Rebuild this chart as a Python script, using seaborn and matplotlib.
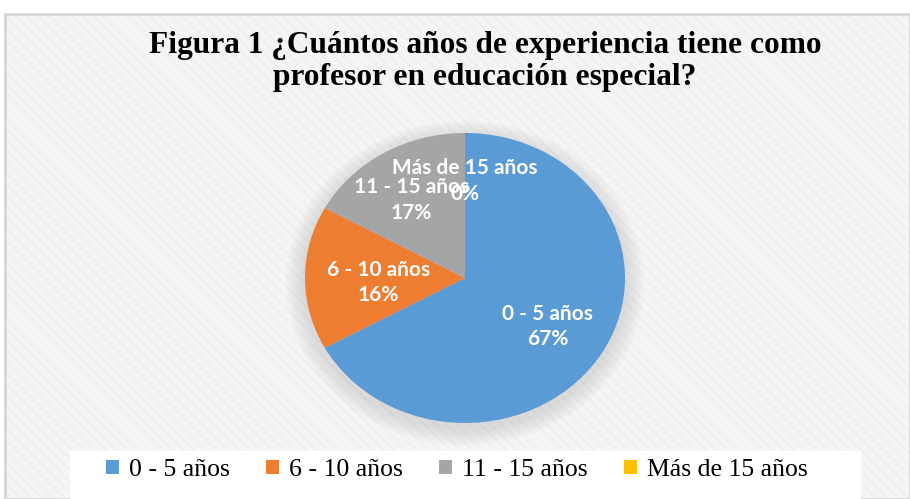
import numpy as np
import matplotlib
matplotlib.use("Agg")
import matplotlib.pyplot as plt
import matplotlib.patches as mpatches
from matplotlib.transforms import Bbox
import seaborn as sns

# ---- data ----
categories = ["0 - 5 años", "6 - 10 años", "11 - 15 años", "Más de 15 años"]
values = [67, 16, 17, 0]
title_text = "Figura 1 ¿Cuántos años de experiencia tiene como\nprofesor en educación especial?"

sns.set_style("white")
palette = sns.color_palette(["#5B9BD5", "#ED7D31", "#A5A5A5", "#FFC000"])

W, H = 910, 499
fig = plt.figure(figsize=(W / 100, H / 100), dpi=100)
fig.patch.set_facecolor("white")

# chart area background with subtle diagonal texture
bg = mpatches.Rectangle((5 / W, 0), 1 - 5 / W, 1 - 14 / H, transform=fig.transFigure,
                        facecolor="#f5f5f5", edgecolor="#ededed", lw=0, hatch="\\\\\\",
                        zorder=-5)
fig.patches.append(bg)
border = mpatches.Rectangle((5 / W, 0), 1 - 5 / W, 1 - 14 / H, transform=fig.transFigure,
                            facecolor="none", edgecolor="#d6d6d6", lw=2, zorder=-4)
fig.patches.append(border)
# legend white strip
strip = mpatches.Rectangle((70 / W, 0), (861 - 70) / W, 48 / H, transform=fig.transFigure,
                           facecolor="white", edgecolor="none", zorder=-3)
fig.patches.append(strip)

# title (clipped at bottom like the reference)
t = fig.text(485 / W, 1 - 31 / H, title_text, ha="center", va="top",
             family="Liberation Serif", fontweight="bold", fontsize=22.6,
             color="black", linespacing=1.15, zorder=5)
t.set_clip_box(Bbox.from_extents(0, H - 92, W, H))
t.set_clip_on(True)

# pie axes: center (465,278), rx 160, ry 145
cx, cy, rx, ry = 465, 278, 160, 145
ax = fig.add_axes([(cx - rx) / W, (H - cy - ry) / H, 2 * rx / W, 2 * ry / H])
ax.set_facecolor("none")

# soft shadow
for i in range(6):
    s = 1.0 + 0.02 * (i + 1)
    e = mpatches.Ellipse((0.0, -0.035), 2 * s, 2 * s, facecolor="#8a8a8a",
                         edgecolor="none", alpha=0.045, zorder=0)
    e.set_clip_on(False)
    ax.add_patch(e)

labels = [f"{c}\n{v}%" for c, v in zip(categories, values)]
wedges, texts = ax.pie(values, colors=palette, startangle=90, counterclock=False,
                       labels=labels, labeldistance=0.6,
                       wedgeprops=dict(linewidth=0),
                       textprops=dict(color="white", fontweight="bold", fontsize=15,
                                      family="Lato"))
for w in wedges:
    w.set_zorder(2)
dists = [0.6, 0.54, 0.66, 0.70]
for w, txt, d in zip(wedges, texts, dists):
    ang = np.deg2rad((w.theta1 + w.theta2) / 2)
    txt.set_position((d * np.cos(ang), d * np.sin(ang) - 0.03))
    txt.set_ha("center")
    txt.set_va("center")
    txt.set_multialignment("center")
    txt.set_linespacing(1.35)
    txt.set_zorder(4)
ax.set_aspect("auto")
ax.set_xlim(-1, 1)
ax.set_ylim(-1, 1)
ax.axis("off")

# legend
handles = [mpatches.Patch(facecolor=c, edgecolor="none") for c in palette]
leg = fig.legend(handles, categories, loc="center", bbox_to_anchor=(457 / W, 1 - 470 / H),
                 ncol=4, frameon=False, handlelength=0.5, handleheight=0.5,
                 handletextpad=0.4, columnspacing=1.4,
                 prop=dict(family="Liberation Serif", size=18.5))
for txt in leg.get_texts():
    txt.set_color("black")

fig.savefig("out.png", dpi=100, facecolor=fig.get_facecolor())
